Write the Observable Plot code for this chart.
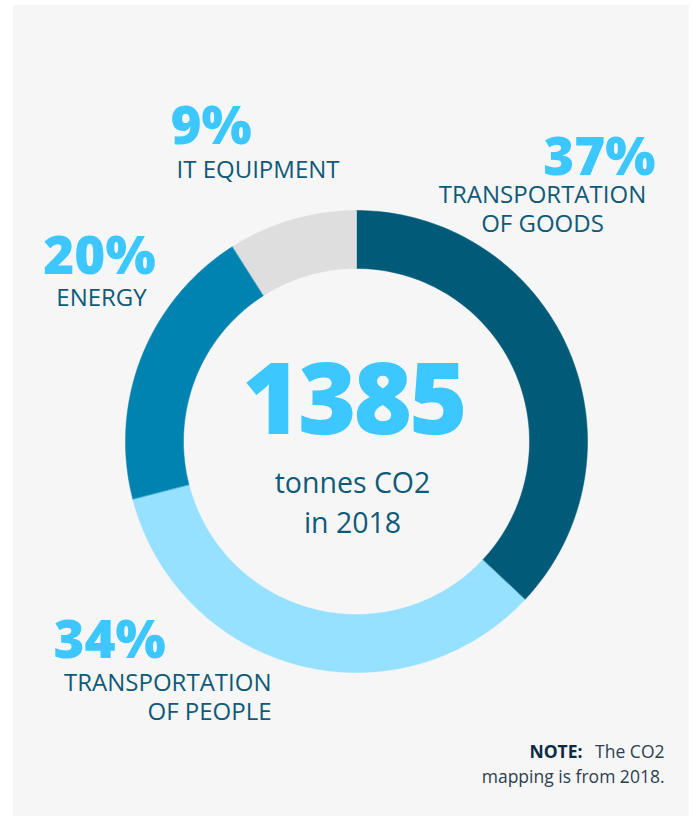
<!DOCTYPE html>
<html>
<head>
<meta charset="utf-8">
<script src="https://cdn.jsdelivr.net/npm/d3@7"></script>
<script src="https://cdn.jsdelivr.net/npm/@observablehq/plot@0.6"></script>
<style>
  html, body { margin: 0; padding: 0; background: #ffffff; }
  #panel { position: absolute; left: 13px; top: 5px; width: 676px; height: 811px; background: #f6f6f6; overflow: hidden; }
  #panel svg { display: block; }
  #panel svg g[font-size="100"] text { letter-spacing: -3px; }
</style>
</head>
<body>
<div id="panel"></div>
<script>
// ---- data ----
const categories = ["TRANSPORTATION\nOF GOODS", "TRANSPORTATION\nOF PEOPLE", "ENERGY", "IT EQUIPMENT"];
const shares = [37, 34, 20, 9];
const totalValue = "1385";
const totalLabel = "tonnes CO2\nin 2018";
const noteBold = "NOTE:";
const noteText = ["The CO2", "mapping is from 2018."];

// ---- style ----
const sliceColors = ["#005a78", "#96e1ff", "#0083b0", "#dedede"];
const pctColor = "#3cc8fe";
const labelColor = "#0f5a78";
const font = "'Open Sans', 'Noto Sans', sans-serif";
const innerRatio = 173 / 231;

// ---- layout (page px -> unit space of the donut, outer radius = 1) ----
const CX = 356, CY = 441, R = 231;
const ux = px => (px - CX) / R;
const uy = py => (CY - py) / R;
const pctPos = [
  {x: ux(655), y: uy(174), anchor: "end"},
  {x: ux(53), y: uy(657), anchor: "start"},
  {x: ux(99), y: uy(273), anchor: "middle"},
  {x: ux(170), y: uy(143), anchor: "start"}
];
const catPos = [
  {x: ux(542), y: uy(231), anchor: "middle"},
  {x: ux(271), y: uy(719), anchor: "end"},
  {x: ux(101), y: uy(305), anchor: "middle"},
  {x: ux(176), y: uy(177), anchor: "start"}
];

// ---- slices from d3.pie ----
const pie = d3.pie().sort(null).startAngle(0).endAngle(2 * Math.PI)(shares);
const arcPts = [];
pie.forEach((p, i) => {
  const n = 120;
  for (let k = 0; k <= n; k++) {
    const a = p.startAngle + (p.endAngle - p.startAngle) * k / n;
    arcPts.push({cat: categories[i], x: Math.sin(a), y: Math.cos(a)});
  }
  for (let k = n; k >= 0; k--) {
    const a = p.startAngle + (p.endAngle - p.startAngle) * k / n;
    arcPts.push({cat: categories[i], x: innerRatio * Math.sin(a), y: innerRatio * Math.cos(a)});
  }
});

const pctData = shares.map((s, i) => ({text: s + "%", ...pctPos[i]}));
const catData = categories.map((c, i) => ({text: c, ...catPos[i]}));

const textMarks = (data, opts) => ["start", "middle", "end"].map(anchor =>
  Plot.text(data.filter(d => d.anchor === anchor), {x: "x", y: "y", text: "text", textAnchor: anchor, ...opts}));

const chart = Plot.plot({
  width: 676,
  height: 811,
  marginLeft: 112,
  marginRight: 102,
  marginTop: 205,
  marginBottom: 144,
  x: {domain: [-1, 1], axis: null},
  y: {domain: [-1, 1], axis: null},
  color: {domain: categories, range: sliceColors},
  style: {background: "transparent", fontFamily: font, overflow: "visible"},
  marks: [
    Plot.line(arcPts, {x: "x", y: "y", z: "cat", fill: "cat", stroke: "cat", strokeWidth: 0.5, curve: "linear-closed"}),
    ...textMarks(pctData, {fontSize: 53, fontWeight: 800, fill: pctColor, lineAnchor: "bottom"}),
    ...textMarks(catData, {fontSize: 24, fontWeight: 400, fill: labelColor, lineAnchor: "bottom", lineHeight: 1.17}),
    Plot.text([totalValue], {x: ux(353), y: uy(433), text: d => d, fontSize: 100, fontWeight: 800, fill: pctColor, lineAnchor: "bottom"}),
    Plot.text([totalLabel], {x: ux(352), y: uy(532), text: d => d, fontSize: 28.5, fill: labelColor, lineAnchor: "bottom", lineHeight: 1.37}),
    Plot.text([noteBold], {x: ux(582), y: uy(757), text: d => d, textAnchor: "end", fontSize: 17.5, fontWeight: 700, fill: "#0d2a45", lineAnchor: "bottom"}),
    Plot.text([noteText[0]], {x: ux(664), y: uy(757), text: d => d, textAnchor: "end", fontSize: 17.5, fill: "#2d3e50", lineAnchor: "bottom"}),
    Plot.text([noteText[1]], {x: ux(664), y: uy(782), text: d => d, textAnchor: "end", fontSize: 17.5, fill: "#2d3e50", lineAnchor: "bottom"})
  ]
});
document.getElementById("panel").appendChild(chart);
</script>
</body>
</html>
